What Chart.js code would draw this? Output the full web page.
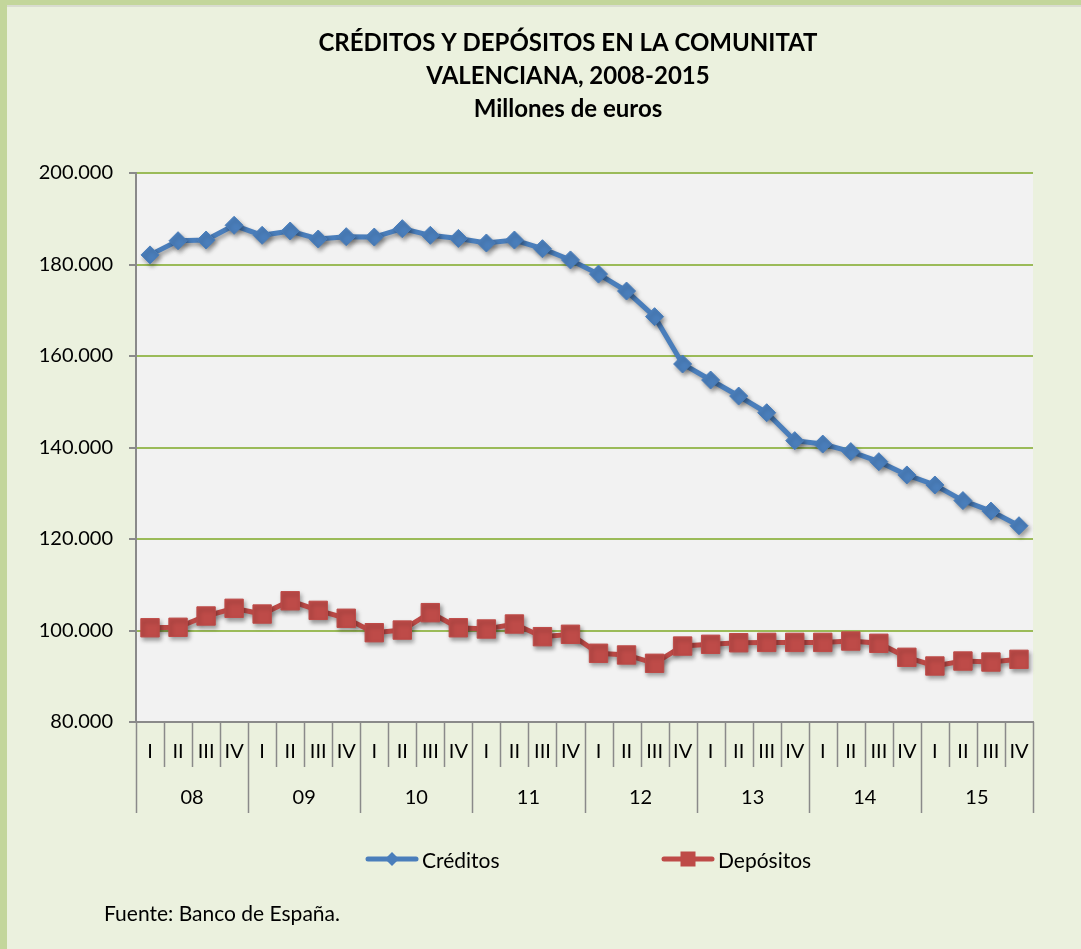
<!DOCTYPE html>
<html>
<head>
<meta charset="utf-8">
<script src="https://cdn.jsdelivr.net/npm/chart.js@4/dist/chart.umd.min.js"></script>
<style>
html,body{margin:0;padding:0;width:1081px;height:949px;overflow:hidden;background:#ebf1de;font-family:Lato, "Open Sans", sans-serif;}
#wrap{position:relative;width:1081px;height:949px;overflow:hidden;}
#barL{position:absolute;left:0;top:0;width:7px;height:949px;background:#c3d69b;}
#barT{position:absolute;left:0;top:0;width:1081px;height:5px;background:#c3d69b;}
#lineT{position:absolute;left:7px;top:5px;width:1074px;height:2px;background:#d9dcd0;}
#c{position:absolute;left:0;top:0;}
.li{position:absolute;top:847px;height:24px;display:flex;align-items:center;font-size:21px;color:#000;white-space:nowrap;}
.li span{margin-left:3px;}
#src{position:absolute;left:104px;top:901px;font-size:21px;line-height:24px;color:#000;}
</style>
</head>
<body>
<div id="wrap">
  <div id="barL"></div><div id="barT"></div><div id="lineT"></div>
  <canvas id="c" width="1136" height="949" style="width:1136px;height:949px"></canvas>
  <div id="legend"></div>
  <div id="src">Fuente: Banco de España.</div>
</div>
<script>
// ---- data ----
const quarterLabels = ['I','II','III','IV','I','II','III','IV','I','II','III','IV','I','II','III','IV',
                       'I','II','III','IV','I','II','III','IV','I','II','III','IV','I','II','III','IV'];
const yearLabels = ['08','09','10','11','12','13','14','15'];
const creditos = [182100, 185200, 185350, 188570, 186380, 187320, 185570, 186080,
                  186000, 187830, 186380, 185700, 184700, 185350, 183450, 181000,
                  177900, 174200, 168600, 158250, 154750, 151250, 147600, 141500,
                  140750, 139100, 136900, 134000, 131800, 128400, 126100, 122900];
const depositos = [100600, 100700, 103170, 104850, 103600, 106500, 104400, 102670,
                   99520, 100100, 103900, 100600, 100330, 101420, 98650, 99170,
                   95020, 94650, 92830, 96600, 96980, 97330, 97400, 97400,
                   97400, 97700, 97200, 94140, 92240, 93330, 93110, 93700];
const seriesNames = ['Créditos', 'Depósitos'];
const titleLines = ['CRÉDITOS Y DEPÓSITOS EN LA COMUNITAT', 'VALENCIANA, 2008-2015', 'Millones de euros'];

const BLUE = '#4a7ebb', RED = '#be4b48', AXIS = '#8a8a8a', GRID = '#9bbb59';

function fmt(v){ return String(v).replace(/\B(?=(\d{3})+(?!\d))/g, '.'); }

const plotBg = {
  id: 'plotBg',
  beforeDraw(chart){
    const {ctx, chartArea:a} = chart;
    ctx.save(); ctx.fillStyle = '#f2f2f2';
    ctx.fillRect(a.left, a.top, a.right - a.left, a.bottom - a.top);
    ctx.restore();
  }
};
const shadow = {
  id: 'shadow',
  beforeDatasetsDraw(chart){
    const ctx = chart.ctx; ctx.save();
    ctx.shadowColor = 'rgba(0,0,0,0.35)'; ctx.shadowBlur = 4;
    ctx.shadowOffsetX = 2; ctx.shadowOffsetY = 3;
  },
  afterDatasetsDraw(chart){ chart.ctx.restore(); }
};
const separators = {
  id: 'separators',
  afterDraw(chart){
    const {ctx} = chart; const x = chart.scales.x, x2 = chart.scales.x2;
    const n = quarterLabels.length;
    ctx.save(); ctx.strokeStyle = AXIS; ctx.lineWidth = 1.5;
    for (let i = 0; i <= n; i++){
      let px;
      if (i === 0) px = x.left; else if (i === n) px = x.right;
      else px = (x.getPixelForValue(i-1) + x.getPixelForValue(i)) / 2;
      px = Math.round(px) + 0.5;
      const yEnd = (i % 4 === 0) ? x2.bottom - 1 : x.top + 45;
      ctx.beginPath(); ctx.moveTo(px, x.top); ctx.lineTo(px, yEnd); ctx.stroke();
    }
    ctx.restore();
  }
};
const htmlLegend = {
  id: 'htmlLegend',
  afterUpdate(chart){
    const box = document.getElementById('legend');
    box.innerHTML = '';
    const lefts = [365, 661];
    chart.data.datasets.forEach((ds, i) => {
      const item = document.createElement('div');
      item.className = 'li'; item.style.left = lefts[i] + 'px';
      const c = ds.borderColor;
      let marker = ds.pointStyle === 'rectRot'
        ? `<polygon points="27,5 34,12 27,19 20,12" fill="${c}"/>`
        : `<rect x="19.5" y="4.5" width="15" height="15" fill="${c}"/>`;
      item.innerHTML = `<svg width="54" height="24" viewBox="0 0 54 24"><line x1="3" y1="12" x2="51" y2="12" stroke="${c}" stroke-width="5" stroke-linecap="round"/>${marker}</svg><span>${ds.label}</span>`;
      box.appendChild(item);
    });
  }
};

new Chart(document.getElementById('c'), {
  type: 'line',
  data: {
    labels: quarterLabels,
    datasets: [
      { label: seriesNames[0], data: creditos, borderColor: BLUE, backgroundColor: BLUE,
        borderWidth: 5, pointStyle: 'rectRot', pointRadius: 9, pointBorderWidth: 1,
        pointBackgroundColor: BLUE, pointBorderColor: BLUE, tension: 0 },
      { label: seriesNames[1], data: depositos, borderColor: RED, backgroundColor: RED,
        borderWidth: 5, pointStyle: 'rect', pointRadius: 13, pointBorderWidth: 1,
        pointBackgroundColor: RED, pointBorderColor: RED, tension: 0 }
    ]
  },
  options: {
    responsive: false, animation: false, devicePixelRatio: 1,
    layout: { padding: { left: 22, right: 22, top: 0, bottom: 135 } },
    plugins: {
      legend: { display: false },
      tooltip: { enabled: false },
      title: { display: true, text: titleLines, color: '#000',
        font: { family: 'Lato', size: 24, weight: 'bold', lineHeight: 1.375 },
        padding: { top: 27, bottom: 47 } }
    },
    scales: {
      x: {
        type: 'category', position: 'bottom', offset: true,
        grid: { display: false, drawTicks: false },
        border: { display: true, color: AXIS, width: 2 },
        ticks: { color: '#000', font: { family: 'Lato', size: 20, lineHeight: 1.2 },
          padding: 18, autoSkip: false, maxRotation: 0, minRotation: 0 }
      },
      x2: {
        type: 'category', position: 'bottom', labels: yearLabels, offset: true,
        grid: { display: false, drawTicks: false },
        border: { display: false },
        ticks: { color: '#000', font: { family: 'Lato', size: 20, lineHeight: 1.2 },
          padding: 4, autoSkip: false, maxRotation: 0, minRotation: 0 }
      },
      y: {
        min: 80000, max: 200000,
        afterFit(scale){ scale.width = 114; },
        grid: { color: (ctx) => ctx.tick && ctx.tick.value === 80000 ? AXIS : GRID,
          lineWidth: 2, tickColor: AXIS, tickLength: 7, drawTicks: true },
        border: { display: true, color: AXIS, width: 2 },
        ticks: { stepSize: 20000, color: '#000', padding: 16,
          font: { family: 'Lato', size: 20, lineHeight: 1.2 },
          callback: (v) => fmt(v) }
      },
      yR: {
        type: 'linear', position: 'right', display: true,
        afterFit(scale){ scale.width = 81; },
        grid: { display: false, drawTicks: false },
        border: { display: false },
        ticks: { display: false }
      }
    }
  },
  plugins: [plotBg, shadow, separators, htmlLegend]
});
</script>
</body>
</html>
